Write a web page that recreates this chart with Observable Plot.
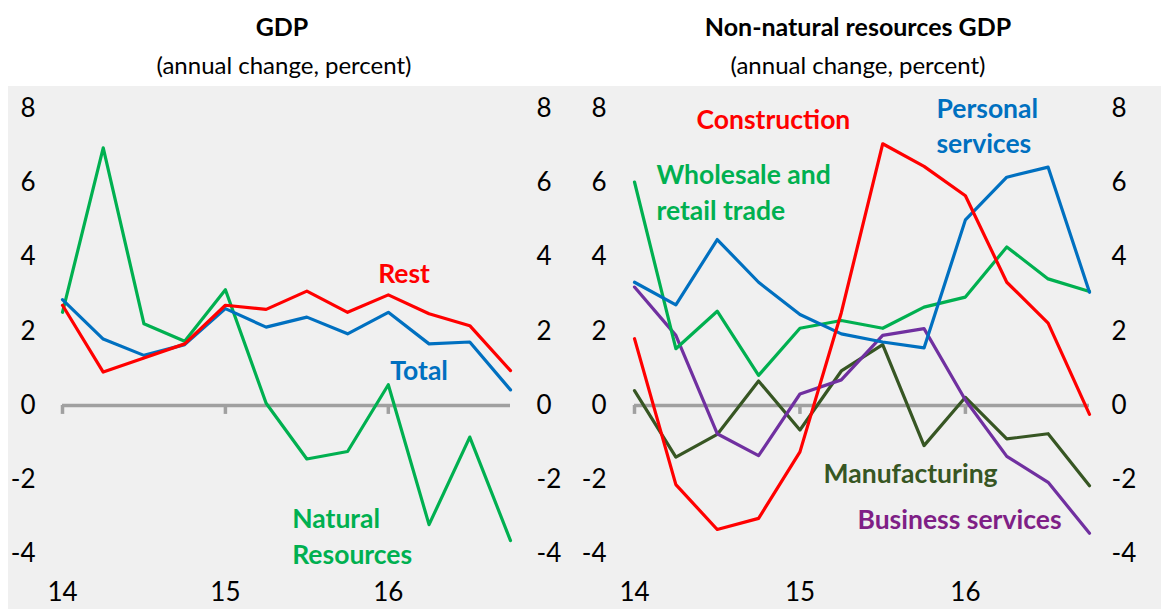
<!DOCTYPE html>
<html>
<head>
<meta charset="utf-8">
<script src="https://cdn.jsdelivr.net/npm/d3@7"></script>
<script src="https://cdn.jsdelivr.net/npm/@observablehq/plot@0.6"></script>
<style>
  body { margin: 0; background: #fff; font-family: Lato, "Open Sans", sans-serif; }
  #wrap { position: relative; width: 1161px; height: 609px; overflow: hidden; background: #fff; }
  #bg { position: absolute; left: 8px; top: 86px; width: 1153px; height: 523px; background: #f0f0f0; }
  .title { position: absolute; transform: translateX(-50%); white-space: nowrap; font-weight: bold; font-size: 25px; line-height: 25px; color: #000; }
  .sub { position: absolute; transform: translateX(-50%); white-space: nowrap; font-size: 24px; line-height: 24px; color: #000; }
  .panel { position: absolute; top: 86px; }
</style>
</head>
<body>
<div id="wrap">
  <div id="bg"></div>
  <div class="title" style="left:282px;top:14px">GDP</div>
  <div class="sub" style="left:284px;top:53px">(annual change, percent)</div>
  <div class="title" style="left:858px;top:14px">Non-natural resources GDP</div>
  <div class="sub" style="left:858px;top:53px">(annual change, percent)</div>
  <div id="left" class="panel" style="left:0px"></div>
  <div id="right" class="panel" style="left:580px"></div>
</div>
<script>
// ---- Data ----
const quarters = ["14Q1","14Q2","14Q3","14Q4","15Q1","15Q2","15Q3","15Q4","16Q1","16Q2","16Q3","16Q4"];
const yearLabels = ["14", "15", "16"];
const yTicks = [-4, -2, 0, 2, 4, 6, 8];

// GDP panel
const gdpTotal   = [2.85, 1.79, 1.35, 1.64, 2.61, 2.11, 2.38, 1.93, 2.51, 1.66, 1.71, 0.42];
const gdpRest    = [2.70, 0.90, 1.28, 1.66, 2.70, 2.59, 3.08, 2.51, 2.98, 2.47, 2.15, 0.94];
const gdpNatural = [2.51, 6.94, 2.20, 1.73, 3.12, 0.06, -1.44, -1.24, 0.56, -3.21, -0.85, -3.64];

// Non-natural resources GDP panel
const construction  = [1.80, -2.13, -3.34, -3.04, -1.25, 2.50, 7.05, 6.44, 5.65, 3.32, 2.22, -0.24];
const personal      = [3.32, 2.71, 4.47, 3.32, 2.45, 1.93, 1.71, 1.55, 5.00, 6.15, 6.42, 3.05];
const wholesale     = [6.02, 1.53, 2.54, 0.81, 2.08, 2.29, 2.08, 2.65, 2.92, 4.27, 3.41, 3.07];
const manufacturing = [0.40, -1.39, -0.78, 0.66, -0.66, 0.93, 1.64, -1.08, 0.22, -0.90, -0.76, -2.16];
const business      = [3.19, 1.89, -0.76, -1.35, 0.31, 0.69, 1.89, 2.07, 0.15, -1.37, -2.07, -3.44];

// ---- Styles ----
const RED = "#ff0000", BLUE = "#0070c0", GREEN = "#00b050", DKGREEN = "#375623", PURPLE = "#7030a0", MAGENTA = "#7f1f86";
const AXIS_GRAY = "#a0a0a0";

const leftSeries = [
  {name: "Natural Resources", values: gdpNatural, color: GREEN},
  {name: "Total", values: gdpTotal, color: BLUE},
  {name: "Rest", values: gdpRest, color: RED}
];
const rightSeries = [
  {name: "Manufacturing", values: manufacturing, color: DKGREEN},
  {name: "Business services", values: business, color: PURPLE},
  {name: "Wholesale and retail trade", values: wholesale, color: GREEN},
  {name: "Personal services", values: personal, color: BLUE},
  {name: "Construction", values: construction, color: RED}
];

// annotation anchors (quarter index, value) — text baseline, start-aligned
const leftLabels = [
  {text: "Rest", x: 7.75, y: 3.29, color: RED},
  {text: "Total", x: 8.05, y: 0.70, color: BLUE},
  {text: "Natural\nResources", x: 5.64, y: -4.26, color: GREEN}
];
const rightLabels = [
  {text: "Construction", x: 1.50, y: 7.44, color: RED},
  {text: "Personal\nservices", x: 7.30, y: 6.79, color: BLUE},
  {text: "Wholesale and\nretail trade", x: 0.53, y: 5.01, color: GREEN},
  {text: "Manufacturing", x: 4.57, y: -2.08, color: DKGREEN},
  {text: "Business services", x: 5.39, y: -3.32, color: MAGENTA}
];

const yearTickIdx = quarters.map((q, i) => q.endsWith("Q1") ? i : null).filter(d => d !== null);

function rows(series) {
  return series.flatMap(s => s.values.map((v, i) => ({i, q: quarters[i], value: v, series: s.name})));
}

function panel(series, labels, opts) {
  return Plot.plot({
    width: opts.width,
    height: 523,
    marginLeft: opts.marginLeft,
    marginRight: opts.marginRight,
    marginTop: 22,
    marginBottom: 55.5,
    style: "background:transparent;overflow:visible;font-family:Lato,'Open Sans',sans-serif;color:#000;",
    x: {domain: [0, quarters.length - 1]},
    y: {domain: [-4, 8]},
    color: {domain: series.map(s => s.name), range: series.map(s => s.color)},
    marks: [
      Plot.axisY({anchor: "left", ticks: yTicks, tickSize: 0, tickPadding: opts.padL, fontSize: 26, tickFormat: d => String(d), label: null}),
      Plot.axisY({anchor: "right", ticks: yTicks, tickSize: 0, tickPadding: opts.padR, fontSize: 26, tickFormat: d => String(d), label: null}),
      Plot.axisX({ticks: yearTickIdx, tickSize: 0, tickPadding: 29, fontSize: 26, tickFormat: d => yearLabels[yearTickIdx.indexOf(d)], label: null}),
      Plot.ruleY([0], {stroke: AXIS_GRAY, strokeWidth: 3.5}),
      Plot.ruleX(yearTickIdx, {x: d => d, y1: 0, y2: -0.24, stroke: AXIS_GRAY, strokeWidth: 3.5}),
      Plot.line(rows(series), {x: "i", y: "value", z: "series", stroke: "series", strokeWidth: 3.2, strokeLinejoin: "round"}),
      Plot.text(labels, {x: "x", y: "y", text: "text", fill: "color", textAnchor: "start", lineAnchor: "bottom", fontSize: 26.5, fontWeight: "bold", lineHeight: 1.33})
    ]
  });
}

document.getElementById("left").appendChild(panel(leftSeries, leftLabels, {width: 580, marginLeft: 62, marginRight: 70, padL: 27, padR: 26}));
document.getElementById("right").appendChild(panel(rightSeries, rightLabels, {width: 581, marginLeft: 54, marginRight: 72, padL: 28, padR: 22}));
</script>
</body>
</html>
